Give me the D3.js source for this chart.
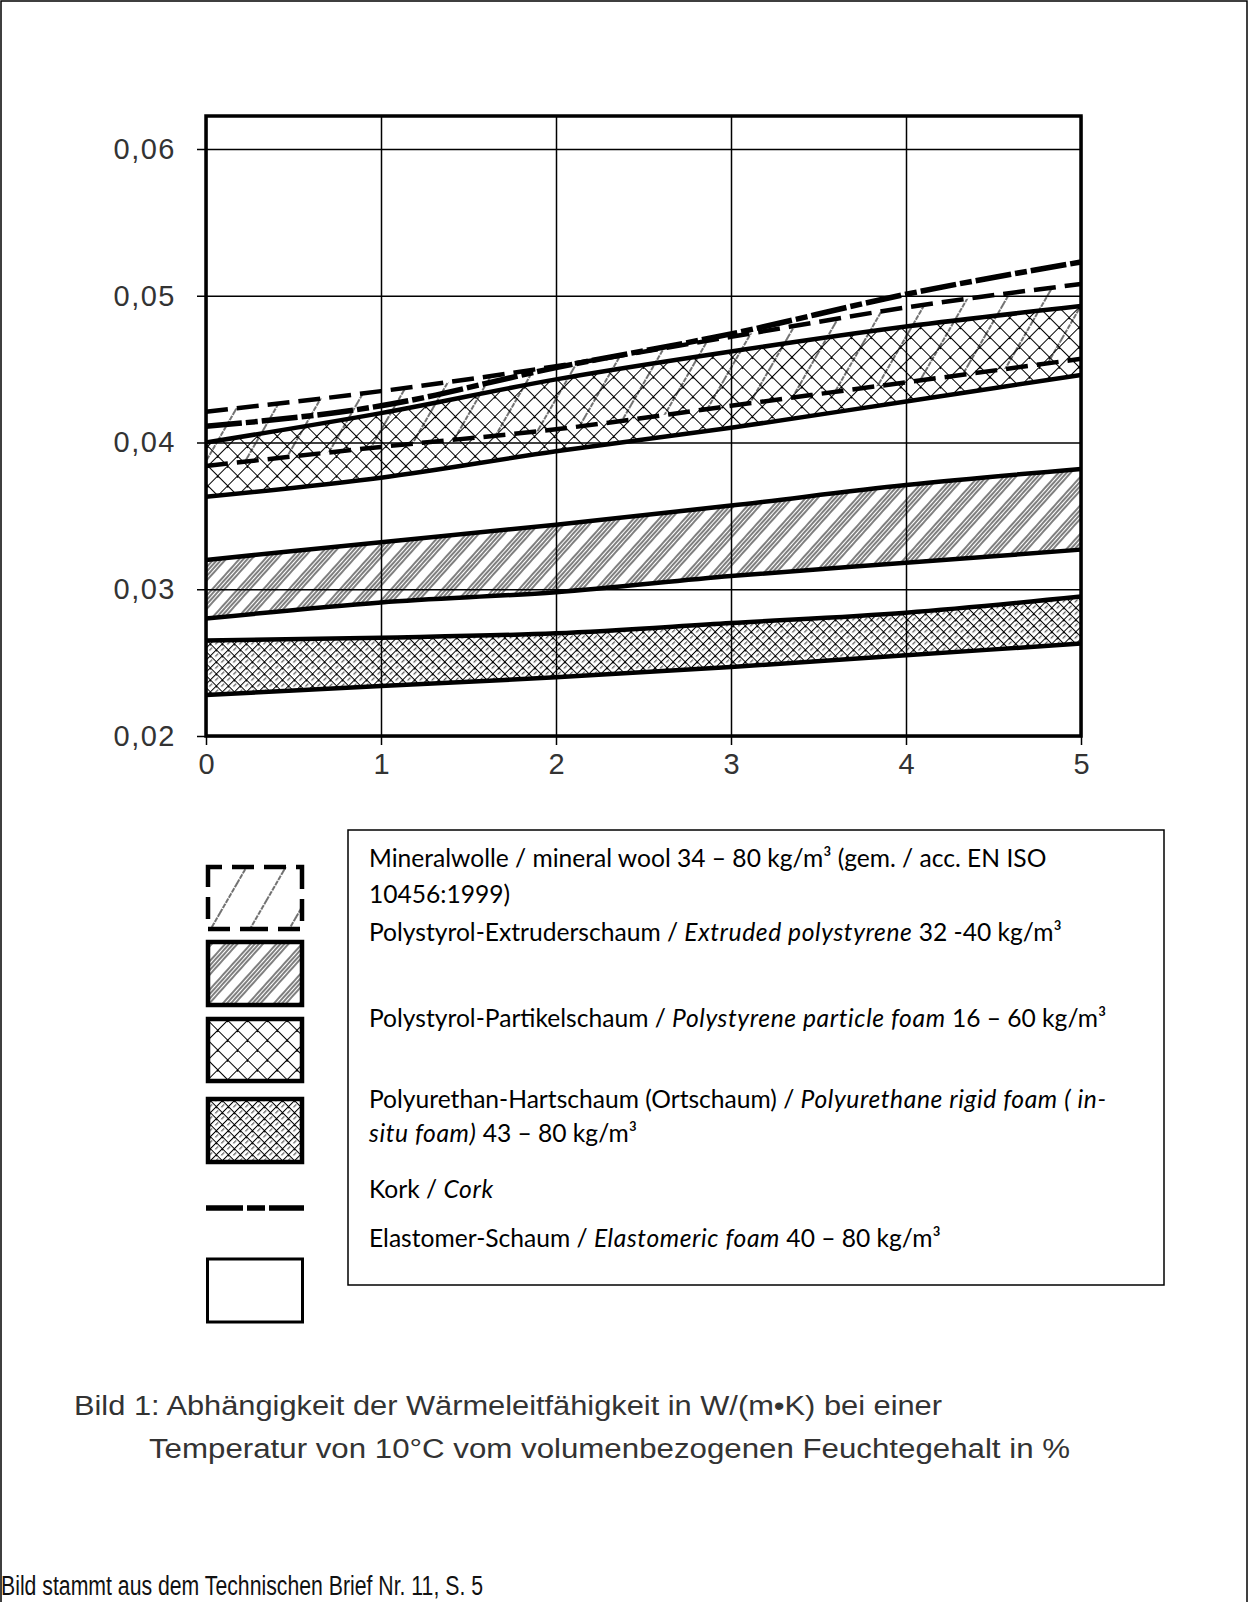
<!DOCTYPE html>
<html>
<head>
<meta charset="utf-8">
<script src="https://cdn.jsdelivr.net/npm/d3@7"></script>
<style>
  html, body { margin: 0; padding: 0; background: #fff; }
  svg { display: block; }
</style>
</head>
<body>
<svg id="chart" width="1249" height="1602"></svg>
<script>
// moisture content in % (x) and thermal conductivity W/(m*K) (y)
const moisture = [0, 1, 2, 3, 4, 5]
const yTicks = [0.02, 0.03, 0.04, 0.05, 0.06]

const mineralWoolUpper = [0.0421, 0.0435, 0.0452, 0.0472, 0.0492, 0.0508]
const mineralWoolLower = [0.0384, 0.0397, 0.0409, 0.0425, 0.0441, 0.0457]
const xpsUpper = [0.0320, 0.0332, 0.0344, 0.0357, 0.0371, 0.0382]
const xpsLower = [0.0280, 0.0291, 0.0298, 0.0309, 0.0318, 0.0327]
const epsUpper = [0.0400, 0.0420, 0.0443, 0.0462, 0.0479, 0.0493]
const epsLower = [0.0363, 0.0376, 0.0394, 0.0410, 0.0428, 0.0446]
const puUpper = [0.0265, 0.0267, 0.0270, 0.0277, 0.0284, 0.0295]
const puLower = [0.0228, 0.0234, 0.0240, 0.0247, 0.0255, 0.0263]
const cork = [0.0411, 0.0425, 0.0451, 0.0474, 0.0501, 0.0523]

// legend text, each line is a list of [text, italic]
const legendLines = [
  [["Mineralwolle / mineral wool 34 – 80 kg/m³ (gem. / acc. EN ISO", false]],
  [["10456:1999)", false]],
  [["Polystyrol-Extruderschaum / ", false], ["Extruded polystyrene", true], [" 32 -40 kg/m³", false]],
  [["Polystyrol-Partikelschaum / ", false], ["Polystyrene particle foam", true], [" 16 – 60 kg/m³", false]],
  [["Polyurethan-Hartschaum (Ortschaum) / ", false], ["Polyurethane rigid foam ( in-", true]],
  [["situ foam)", true], [" 43 – 80 kg/m³", false]],
  [["Kork / ", false], ["Cork", true]],
  [["Elastomer-Schaum / ", false], ["Elastomeric foam", true], [" 40 – 80 kg/m³", false]]
]
const legendBaselines = [867, 903, 941, 1027, 1108, 1142, 1198, 1247]

const captionLines = [
  "Bild 1: Abhängigkeit der Wärmeleitfähigkeit in W/(m•K) bei einer",
  "Temperatur von 10°C vom volumenbezogenen Feuchtegehalt in %"
]
const sourceNote = "Bild stammt aus dem Technischen Brief Nr. 11, S. 5"

const svg = d3.select('#chart')
const x = d3.scaleLinear().domain([0, 5]).range([206, 1081])
const y = d3.scaleLinear().domain([0.02, 0.06]).range([736, 149])
const plotTop = 116

// outer frame of the figure
svg.append('rect')
  .attr('x', 1).attr('y', 1).attr('width', 1246).attr('height', 1650)
  .attr('fill', 'none').attr('stroke', '#000').attr('stroke-width', 1.5)

// hatch patterns
const defs = svg.append('defs')
function pattern(id, size, angle) {
  return defs.append('pattern').attr('id', id)
    .attr('patternUnits', 'userSpaceOnUse')
    .attr('width', size).attr('height', size)
    .attr('patternTransform', `rotate(${angle})`)
}
const mw = pattern('mwHatch', 34, 30)
mw.append('line').attr('x1', 1).attr('x2', 1).attr('y1', 0).attr('y2', 34)
  .attr('stroke', '#000').attr('stroke-width', 1.1).attr('stroke-dasharray', '5,1')

const xps = pattern('xpsHatch', 19, 42)
;[1, 4, 7, 10].forEach(o => {
  xps.append('line').attr('x1', o).attr('x2', o).attr('y1', 0).attr('y2', 19)
    .attr('stroke', '#000').attr('stroke-width', 1)
})

const eps = pattern('epsHatch', 14, 45)
eps.append('line').attr('x1', 0.5).attr('x2', 0.5).attr('y1', 0).attr('y2', 14).attr('stroke', '#000').attr('stroke-width', 1)
eps.append('line').attr('x1', 0).attr('x2', 14).attr('y1', 0.5).attr('y2', 0.5).attr('stroke', '#000').attr('stroke-width', 1)
eps.append('rect').attr('x', 0).attr('y', 0).attr('width', 2).attr('height', 2).attr('fill', '#000')

const pu = pattern('puHatch', 8.5, 45)
pu.append('line').attr('x1', 0.5).attr('x2', 0.5).attr('y1', 0).attr('y2', 8.5).attr('stroke', '#000').attr('stroke-width', 1)
pu.append('line').attr('x1', 0).attr('x2', 8.5).attr('y1', 0.5).attr('y2', 0.5).attr('stroke', '#000').attr('stroke-width', 1)
pu.append('line').attr('x1', 4.5).attr('x2', 4.5).attr('y1', 2).attr('y2', 6).attr('stroke', '#000').attr('stroke-width', 0.8)
pu.append('rect').attr('x', 0).attr('y', 0).attr('width', 1.8).attr('height', 1.8).attr('fill', '#000')

// grid and axes
const gridY = svg.append('g')
  .attr('transform', `translate(${x(0)},0)`)
  .call(d3.axisLeft(y).tickValues(yTicks).tickSize(9).tickPadding(21)
    .tickFormat(d => d.toFixed(2).replace('.', ',')))
gridY.select('.domain').remove()
gridY.selectAll('line').attr('x1', x(5) - x(0)).attr('stroke', '#000').attr('stroke-width', 1.5)
gridY.selectAll('text')
  .attr('font-family', 'Liberation Sans, Arial, sans-serif')
  .attr('font-size', 29).attr('letter-spacing', 1.5).attr('fill', '#333')

const gridX = svg.append('g')
  .attr('transform', `translate(0,${y(0.02)})`)
  .call(d3.axisBottom(x).tickValues(moisture).tickSize(9).tickPadding(8).tickFormat(d3.format('d')))
gridX.select('.domain').remove()
gridX.selectAll('line').attr('y1', plotTop - y(0.02)).attr('stroke', '#000').attr('stroke-width', 1.5)
gridX.selectAll('text')
  .attr('font-family', 'Liberation Sans, Arial, sans-serif')
  .attr('font-size', 29).attr('fill', '#333')

// bands
const pts = (lo, hi) => moisture.map((m, i) => ({m, lo: lo[i], hi: hi[i]}))
const area = d3.area().x(d => x(d.m)).y0(d => y(d.lo)).y1(d => y(d.hi)).curve(d3.curveMonotoneX)
const bands = [
  [xpsLower, xpsUpper, 'xpsHatch'],
  [puLower, puUpper, 'puHatch'],
  [epsLower, epsUpper, 'epsHatch'],
  [mineralWoolLower, mineralWoolUpper, 'mwHatch']
]
bands.forEach(([lo, hi, pid]) => {
  svg.append('path').datum(pts(lo, hi)).attr('d', area).attr('fill', `url(#${pid})`)
})

// boundary lines
const line = d3.line().x((d, i) => x(moisture[i])).y(d => y(d)).curve(d3.curveMonotoneX)
const solid = [xpsLower, xpsUpper, puLower, puUpper, epsLower, epsUpper]
solid.forEach(s => {
  svg.append('path').datum(s).attr('d', line)
    .attr('fill', 'none').attr('stroke', '#000').attr('stroke-width', 4.5)
})
;[mineralWoolLower, mineralWoolUpper].forEach(s => {
  svg.append('path').datum(s).attr('d', line)
    .attr('fill', 'none').attr('stroke', '#000').attr('stroke-width', 4.5)
    .attr('stroke-dasharray', '22,9')
})
svg.append('path').datum(cork).attr('d', line)
  .attr('fill', 'none').attr('stroke', '#000').attr('stroke-width', 5.5)
  .attr('stroke-dasharray', '36,4,12,4')

// plot frame
svg.append('rect')
  .attr('x', x(0)).attr('y', plotTop)
  .attr('width', x(5) - x(0)).attr('height', y(0.02) - plotTop)
  .attr('fill', 'none').attr('stroke', '#000').attr('stroke-width', 3.5)

// legend swatches
const sw = {x: 206, w: 98}
function swatch(y0, y1, fill, dash) {
  svg.append('rect').attr('x', sw.x + 2).attr('y', y0 + 2)
    .attr('width', sw.w - 4).attr('height', y1 - y0 - 4)
    .attr('fill', fill).attr('stroke', '#000').attr('stroke-width', 4.5)
    .attr('stroke-dasharray', dash || null)
}
swatch(865, 931, 'url(#mwHatch)', '14,10,22,10,22,10,14,0')
swatch(940, 1007, 'url(#xpsHatch)')
swatch(1017, 1083, 'url(#epsHatch)')
swatch(1097, 1164, 'url(#puHatch)')
svg.append('line').attr('x1', sw.x).attr('x2', sw.x + sw.w).attr('y1', 1208).attr('y2', 1208)
  .attr('stroke', '#000').attr('stroke-width', 5.5).attr('stroke-dasharray', '37,4,18,4,37')
svg.append('rect').attr('x', sw.x + 1.5).attr('y', 1259)
  .attr('width', sw.w - 3).attr('height', 63)
  .attr('fill', '#fff').attr('stroke', '#000').attr('stroke-width', 3)

// legend box and text
svg.append('rect').attr('x', 348).attr('y', 830).attr('width', 816).attr('height', 455)
  .attr('fill', 'none').attr('stroke', '#000').attr('stroke-width', 1.5)
legendLines.forEach((segs, i) => {
  const t = svg.append('text').attr('x', 369).attr('y', legendBaselines[i])
    .attr('font-family', 'Lato, Open Sans, sans-serif').attr('font-size', 24.6).attr('fill', '#000')
  segs.forEach(([s, it]) => {
    t.append('tspan').text(s)
      .attr('font-style', it ? 'italic' : 'normal')
      .attr('letter-spacing', it ? 0.6 : null)
  })
})

// caption
const capFont = 'Liberation Sans, Arial, sans-serif'
svg.append('text').attr('x', 74).attr('y', 1415).text(captionLines[0])
  .attr('font-family', capFont).attr('font-size', 27).attr('fill', '#333')
  .attr('textLength', 868).attr('lengthAdjust', 'spacingAndGlyphs')
svg.append('text').attr('x', 149).attr('y', 1458).text(captionLines[1])
  .attr('font-family', capFont).attr('font-size', 27).attr('fill', '#333')
  .attr('textLength', 921).attr('lengthAdjust', 'spacingAndGlyphs')
svg.append('text').attr('x', 1).attr('y', 1595).text(sourceNote)
  .attr('font-family', capFont).attr('font-size', 27).attr('fill', '#111')
  .attr('textLength', 482).attr('lengthAdjust', 'spacingAndGlyphs')
</script>
</body>
</html>
